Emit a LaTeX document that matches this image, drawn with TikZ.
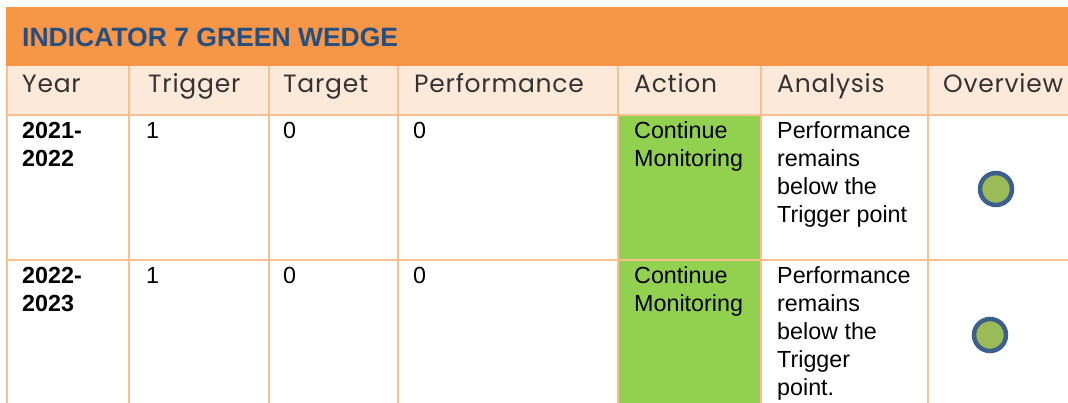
\documentclass[tikz,border=0pt]{standalone}
\usepackage{fontspec}
\setmainfont{Liberation Sans}
\newfontfamily\hdrfont[LetterSpace=3]{Poppins}
\definecolor{bandorange}{HTML}{F79646}
\definecolor{hdrpeach}{HTML}{FDE9D9}
\definecolor{gridline}{HTML}{FABF8F}
\definecolor{titleblue}{HTML}{234F82}
\definecolor{actgreen}{HTML}{92D050}
\definecolor{dotfill}{HTML}{9BBB59}
\definecolor{dotring}{HTML}{3D5F8D}
\begin{document}
\begin{tikzpicture}[x=1pt,y=-1pt,
  titletext/.style={anchor=base west,inner sep=0pt,text=titleblue,font=\fontsize{26.5}{30}\selectfont\bfseries},
  hdrtext/.style={anchor=base west,inner sep=0pt,text=black!80,font=\hdrfont\fontsize{25}{28}\selectfont},
  celltext/.style={anchor=north west,inner sep=0pt,align=left,font=\fontsize{23.3}{28}\selectfont},
  yeartext/.style={celltext,font=\fontsize{23.3}{28}\selectfont\bfseries},
  grid/.style={draw=gridline,line width=2.6pt},
  status/.style={circle,draw=dotring,fill=dotfill,line width=4.5pt,minimum size=32pt,inner sep=0pt}]
\useasboundingbox (0,0) rectangle (1068,403);
\fill[white] (0,0) rectangle (1068,403);
% bands
\fill[bandorange] (6,7) rectangle (1068,66);
\fill[hdrpeach] (6,66) rectangle (1068,115);
\fill[actgreen] (618,115) rectangle (761,403);
% grid
\draw[grid] (7,66) -- (7,403);
\foreach \cx in {129,269,398,618,761,928} {\draw[grid] (\cx,66) -- (\cx,403);}
\draw[grid] (6,115) -- (1068,115);
\draw[grid] (6,260) -- (1068,260);
% title
\node[titletext] (title) at (22,47) {INDICATOR 7 GREEN WEDGE};
% header
\node[hdrtext] (hyear) at (22,93) {Year};
\node[hdrtext] (htrig) at (148,93) {Trigger};
\node[hdrtext] (htarg) at (283,93) {Target};
\node[hdrtext] (hperf) at (414,93) {Performance};
\node[hdrtext] (hact) at (634,93) {Action};
\node[hdrtext] (hana) at (777,93) {Analysis};
\node[hdrtext] (hover) at (943,93) {Overview};
% row 1 (first baseline 138.5; strut height 19.6)
\node[yeartext] (y1) at (22,118.9) {\strut 2021-\\2022};
\node[celltext] (t1) at (146,118.9) {\strut 1};
\node[celltext] (g1) at (283,118.9) {\strut 0};
\node[celltext] (p1) at (413,118.9) {\strut 0};
\node[celltext] (a1) at (634,118.9) {\strut Continue\\Monitoring};
\node[celltext] (n1) at (777,118.9) {\strut Performance\\remains\\below the\\Trigger point};
\node[status] (o1) at (996,189) {};
% row 2 (first baseline 283)
\node[yeartext] (y2) at (22,263.4) {\strut 2022-\\2023};
\node[celltext] (t2) at (146,263.4) {\strut 1};
\node[celltext] (g2) at (283,263.4) {\strut 0};
\node[celltext] (p2) at (413,263.4) {\strut 0};
\node[celltext] (a2) at (634,263.4) {\strut Continue\\Monitoring};
\node[celltext] (n2) at (777,263.4) {\strut Performance\\remains\\below the\\Trigger\\point.};
\node[status] (o2) at (990,335) {};
\end{tikzpicture}
\end{document}
